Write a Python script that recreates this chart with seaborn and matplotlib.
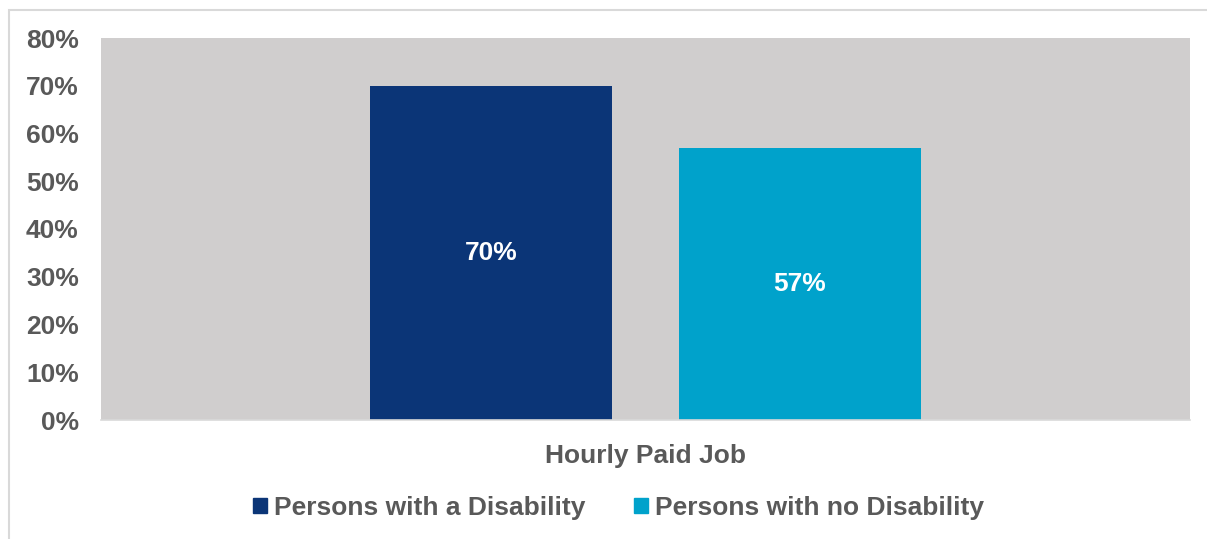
import matplotlib
matplotlib.use("Agg")
import matplotlib.pyplot as plt
import matplotlib.patches as mpatches
import seaborn as sns
import pandas as pd

categories = ["Hourly Paid Job"]
groups = ["Persons with a Disability", "Persons with no Disability"]
values = [70, 57]
colors = ["#0b3577", "#00a2cb"]
y_ticks = [0, 10, 20, 30, 40, 50, 60, 70, 80]

df = pd.DataFrame({
    "category": categories * len(groups),
    "group": groups,
    "value": values,
})

sns.set_theme(style="white")
plt.rcParams["font.family"] = ["Liberation Sans", "DejaVu Sans"]
plt.rcParams["font.weight"] = "bold"

text_color = "#595959"
fs = 19

fig = plt.figure(figsize=(12.07, 5.39), dpi=100)
ax = fig.add_axes([101 / 1207, 1 - 420 / 539, (1190 - 101) / 1207, (420 - 38) / 539])

sns.barplot(data=df, x="category", y="value", hue="group", palette=colors,
            width=0.567, gap=0.214, saturation=1, linewidth=0, ax=ax, legend=False)

ax.set_facecolor("#d0cece")
ax.set_xlim(-0.5, 0.5)
ax.set_ylim(0, 80)
ax.set_yticks(y_ticks)
ax.set_yticklabels([f"{t}%" for t in y_ticks], fontsize=fs, fontweight="bold", color=text_color)
ax.tick_params(axis="y", length=0, pad=16)
ax.tick_params(axis="x", length=0, pad=17, labelsize=fs, labelcolor=text_color)
for lab in ax.get_xticklabels():
    lab.set_fontweight("bold")
ax.set_xlabel("")
ax.set_ylabel("")
for side in ["top", "right", "left"]:
    ax.spines[side].set_visible(False)
ax.spines["bottom"].set_color("#d9d9d9")
ax.spines["bottom"].set_linewidth(1.2)

for container in ax.containers:
    ax.bar_label(container, labels=[f"{v:.0f}%" for v in container.datavalues],
                 label_type="center", color="white", fontsize=fs, fontweight="bold")

handles = [mpatches.Patch(color=c, label=g) for c, g in zip(colors, groups)]
fig.legend(handles=handles, loc="center", bbox_to_anchor=(618.5 / 1207, 1 - 508 / 539),
           ncol=2, frameon=False, fontsize=fs, labelcolor=text_color,
           handlelength=0.53, handleheight=0.53, handletextpad=0.27, columnspacing=1.85)

# thin outer frame of the chart area
fig.patches.append(mpatches.Rectangle((8.5 / 1207, -0.1), 1.2, 1 - 9.5 / 539 + 0.1,
                                      transform=fig.transFigure, fill=False,
                                      edgecolor="#d9d9d9", linewidth=1.5))

fig.savefig("out.png", dpi=100, facecolor="white")
